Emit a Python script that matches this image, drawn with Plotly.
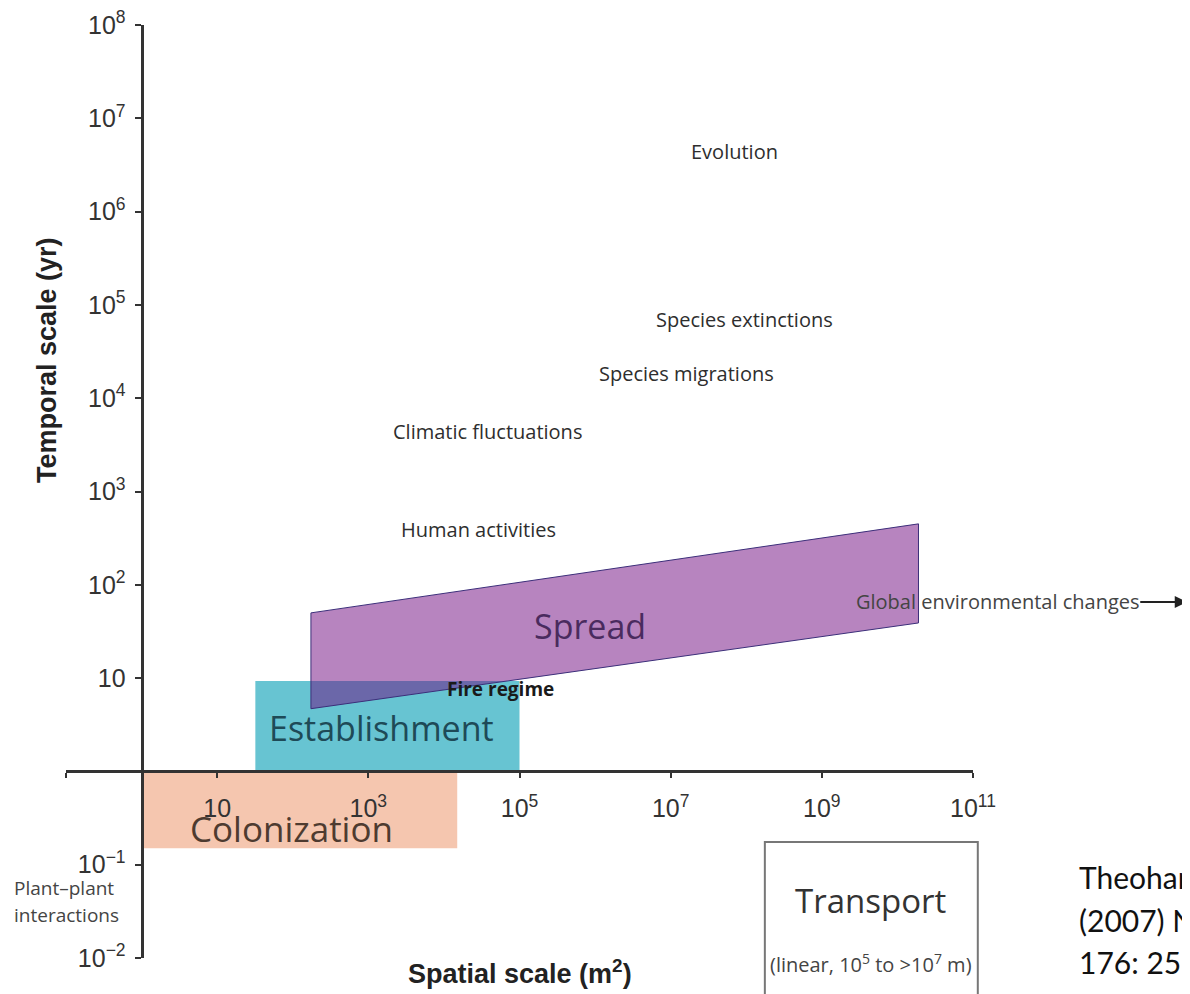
import numpy as np
import plotly.graph_objects as go

# ---- data ----
x_tickvals = [1e-1, 1e1, 1e3, 1e5, 1e7, 1e9, 1e11]
x_ticktext = ["", "10", "10<sup>3</sup>", "10<sup>5</sup>", "10<sup>7</sup>", "10<sup>9</sup>", "10<sup>11</sup>"]
y_tickvals = [1e-2, 1e-1, 1e1, 1e2, 1e3, 1e4, 1e5, 1e6, 1e7, 1e8]
y_ticktext = ["10<sup>−2</sup>", "10<sup>−1</sup>", "10", "10<sup>2</sup>", "10<sup>3</sup>",
              "10<sup>4</sup>", "10<sup>5</sup>", "10<sup>6</sup>", "10<sup>7</sup>", "10<sup>8</sup>"]

colonization_x = [1.0, 1.5e4]
colonization_y = [0.15, 1.0]
establishment_x = [32, 1.0e5]
establishment_y = [1.0, 9.3]
spread_x = [174, 1.9e10, 1.9e10, 174]
spread_y = [50, 450, 39, 4.7]

process_labels = ["Evolution", "Species extinctions", "Species migrations",
                  "Climatic fluctuations", "Human activities"]
process_x = [10**7.85, 10**7.98, 10**7.21, 10**4.57, 10**4.46]
process_y = [10**6.64, 10**4.84, 10**4.26, 10**3.64, 10**2.59]

x_range_log = [-1.0, 11.0]
y_range_log = [-2.0, 8.0]

# plot area geometry (pixels in the 1190x994 page)
PL, PR, PT, PB = 66.0, 973.2, 25.0, 958.0
PW, PH = PR - PL, PB - PT
BODY = 8  # default page margin around the figure


def px(xp):
    return (xp - PL) / PW


def py(yp):
    return (PB - yp) / PH


fig = go.Figure()


def rect(xs, ys):
    return [xs[0], xs[1], xs[1], xs[0], xs[0]], [ys[0], ys[0], ys[1], ys[1], ys[0]]


cx, cy = rect(colonization_x, colonization_y)
fig.add_trace(go.Scatter(x=cx, y=cy, fill="toself", mode="none",
                         fillcolor="#F5C6AF", hoverinfo="skip", showlegend=False))
ex, ey = rect(establishment_x, establishment_y)
fig.add_trace(go.Scatter(x=ex, y=ey, fill="toself", mode="none",
                         fillcolor="#67C4D2", hoverinfo="skip", showlegend=False))
fig.add_trace(go.Scatter(x=spread_x + [spread_x[0]], y=spread_y + [spread_y[0]],
                         fill="toself", mode="lines",
                         line=dict(color="#3C2F7A", width=1),
                         fillcolor="rgba(112,10,128,0.5)", hoverinfo="skip", showlegend=False))


def note(x, y, text, font, xref="x", yref="y", xanchor="center", **kw):
    fig.add_annotation(x=x, y=y, xref=xref, yref=yref, text=text, showarrow=False,
                       xanchor=xanchor, yanchor="middle", font=font, **kw)


sans = "Open Sans, Noto Sans, sans-serif"
lab_font = dict(family=sans, size=20, color="#2e2e2e")
for t, x, y in zip(process_labels, process_x, process_y):
    note(np.log10(x), np.log10(y), t, lab_font)

note(4.75, 0.883, "<b>Fire regime</b>", dict(family=sans, size=19, color="#1a1a1a"))
note(9.43, 1.826, "Global environmental changes", dict(family=sans, size=20, color="#444"),
     xanchor="left")
fig.add_annotation(x=px(1187), y=py(602), xref="paper", yref="paper",
                   text="", showarrow=True, ax=-48, ay=0, arrowhead=2, arrowsize=1.2,
                   arrowwidth=2, arrowcolor="#222")

note(5.93, 1.558, "Spread", dict(family=sans, size=34, color="#4A2B5E"))
note(3.18, 0.465, "Establishment", dict(family=sans, size=34, color="#1E4A57"))
note(1.99, -0.607, "Colonization", dict(family=sans, size=35, color="#4E3B30"))

for line, yy in zip(["Plant–plant", "interactions"], [888, 915]):
    note(px(12), py(yy), line, dict(family=sans, size=19, color="#444"),
         xref="paper", yref="paper", xanchor="left")

# Transport box
fig.add_shape(type="rect", xref="paper", yref="paper",
              x0=px(765), x1=px(978), y0=py(1010), y1=py(842),
              line=dict(color="#777", width=2), fillcolor="rgba(0,0,0,0)")
note(px(871), py(900), "Transport", dict(family=sans, size=33, color="#333"),
     xref="paper", yref="paper")
note(px(871), py(963), "(linear, 10<sup>5</sup> to >10<sup>7</sup> m)",
     dict(family=sans, size=20, color="#444"), xref="paper", yref="paper")

# citation
cit_font = dict(family="Lato, Open Sans, sans-serif", size=30, color="#111")
for line, yy in zip(["Theoharides and Dukes", "(2007) New Phytologist", "176: 256–273"],
                    [877, 919.5, 962]):
    note(px(1077), py(yy), line, cit_font, xref="paper", yref="paper", xanchor="left")

# axis titles
title_font = dict(family="Liberation Sans, Arial, sans-serif", size=27, color="#222")
note(px(47), py(360), "<b>Temporal scale (yr)</b>", title_font,
     xref="paper", yref="paper", textangle=-90)
note(px(520), py(972), "<b>Spatial scale (m<sup>2</sup>)</b>", title_font,
     xref="paper", yref="paper")

tick_font = dict(family="Liberation Sans, Arial, sans-serif", size=25, color="#333")
fig.update_layout(
    width=1190 - BODY, height=994 - BODY,
    margin=dict(l=PL - BODY, r=1190 - PR, t=PT - BODY, b=994 - PB, pad=0, autoexpand=False),
    paper_bgcolor="white", plot_bgcolor="white",
    showlegend=False,
    xaxis=dict(type="log", range=x_range_log, tickvals=x_tickvals, ticktext=x_ticktext,
               showgrid=False, zeroline=False, showline=True, linecolor="#333", linewidth=3,
               ticks="outside", ticklen=5, tickwidth=2, tickcolor="#333",
               anchor="free", position=0.2, side="bottom", automargin=False,
               ticklabeloverflow="allow",
               tickfont=tick_font, ticklabelstandoff=9),
    yaxis=dict(type="log", range=y_range_log, tickvals=y_tickvals, ticktext=y_ticktext,
               showgrid=False, zeroline=False, showline=True, linecolor="#333", linewidth=3,
               ticks="outside", ticklen=6, tickwidth=2, tickcolor="#333",
               anchor="free", position=1 / 12, side="left", automargin=False,
               ticklabeloverflow="allow", ticklabelstandoff=4,
               tickfont=tick_font),
)

fig.write_html("out.html")
